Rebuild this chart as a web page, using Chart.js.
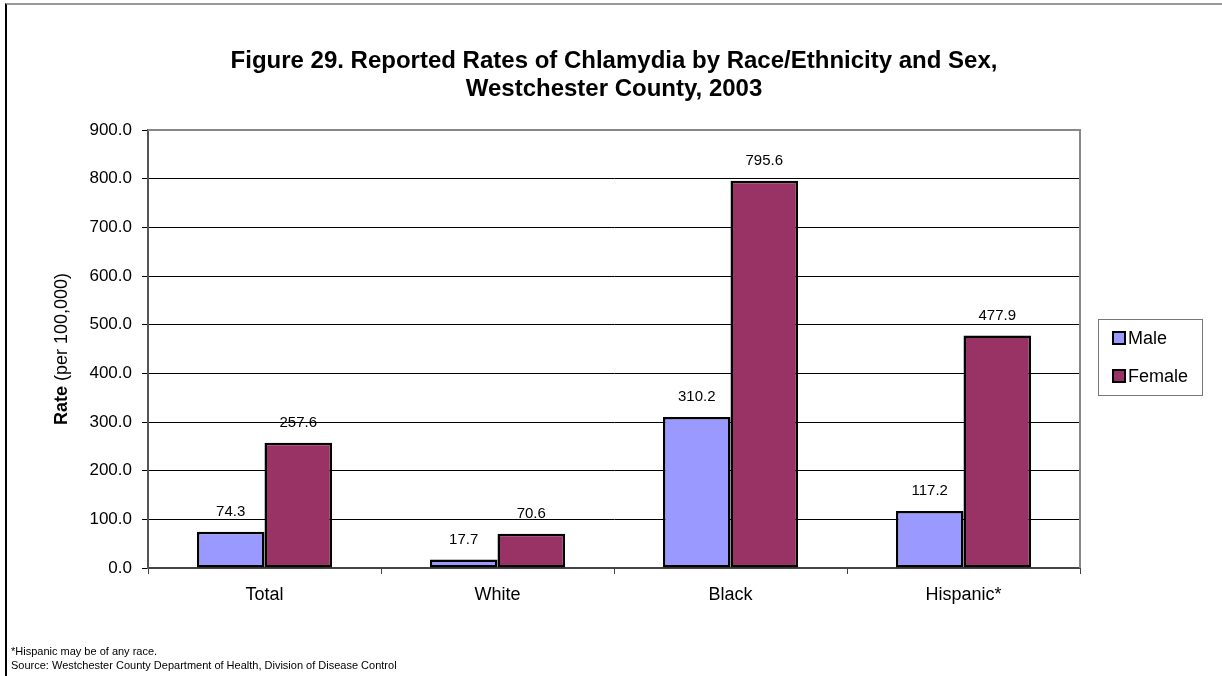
<!DOCTYPE html>
<html>
<head>
<meta charset="utf-8">
<script src="https://cdn.jsdelivr.net/npm/chart.js@4.4.0/dist/chart.umd.min.js"></script>
<style>
  html, body { margin: 0; padding: 0; background: #fff; }
  #wrap { position: relative; width: 1222px; height: 676px; overflow: hidden; }
  #frame { position: absolute; left: 5px; top: 3px; width: 1300px; height: 800px;
           border-left: 2px solid #000; border-top: 2px solid #999; }
  #c { position: absolute; left: 0; top: 0; }
  .note { position: absolute; left: 11px; font: 11px "Liberation Sans", Arial, sans-serif; color: #000; }
</style>
</head>
<body>
<div id="wrap">
  <div id="frame"></div>
  <canvas id="c" width="1222" height="676"></canvas>
  <div class="note" style="top:645px">*Hispanic may be of any race.</div>
  <div class="note" style="top:659px">Source: Westchester County Department of Health, Division of Disease Control</div>
</div>
<script>
const categories = ['Total', 'White', 'Black', 'Hispanic*'];
const maleRates = [74.3, 17.7, 310.2, 117.2];
const femaleRates = [257.6, 70.6, 795.6, 477.9];
const yTicks = [0, 100, 200, 300, 400, 500, 600, 700, 800, 900];
const titleLines = ['Figure 29. Reported Rates of Chlamydia by Race/Ethnicity and Sex,', 'Westchester County, 2003'];

const FONT = '"Liberation Sans", Arial, sans-serif';

const extras = {
  id: 'extras',
  afterDraw(chart) {
    const ctx = chart.ctx;
    const a = chart.chartArea;
    ctx.save();
    // title
    ctx.fillStyle = '#000';
    ctx.font = 'bold 24px ' + FONT;
    ctx.textAlign = 'center';
    ctx.textBaseline = 'middle';
    titleLines.forEach((t, i) => ctx.fillText(t, 614, 61 + i * 28));

    // plot border top and right
    ctx.strokeStyle = '#888';
    ctx.lineWidth = 2;
    ctx.beginPath();
    ctx.moveTo(a.left, a.top);
    ctx.lineTo(a.right, a.top);
    ctx.lineTo(a.right, a.bottom);
    ctx.stroke();

    // value labels
    ctx.fillStyle = '#000';
    ctx.font = '15px ' + FONT;
    ctx.textAlign = 'center';
    ctx.textBaseline = 'middle';
    chart.data.datasets.forEach((ds, i) => {
      chart.getDatasetMeta(i).data.forEach((bar, j) => {
        ctx.fillText(ds.data[j].toFixed(1), bar.x, bar.y - 20);
      });
    });

    // y title
    ctx.save();
    ctx.translate(62, (a.top + a.bottom) / 2);
    ctx.rotate(-Math.PI / 2);
    ctx.textBaseline = 'middle';
    ctx.textAlign = 'left';
    const bold = 'bold 18px ' + FONT, reg = '18px ' + FONT;
    ctx.font = bold; const w1 = ctx.measureText('Rate').width;
    ctx.font = reg; const w2 = ctx.measureText(' (per 100,000)').width;
    const x0 = -(w1 + w2) / 2;
    ctx.font = bold; ctx.fillText('Rate', x0, 0);
    ctx.font = reg; ctx.fillText(' (per 100,000)', x0 + w1, 0);
    ctx.restore();

    // legend
    const lx = 1098, ly = 319, lw = 104, lh = 76;
    ctx.strokeStyle = '#777';
    ctx.lineWidth = 1;
    ctx.strokeRect(lx + 0.5, ly + 0.5, lw, lh);
    ctx.font = '18px ' + FONT;
    ctx.textAlign = 'left';
    ctx.textBaseline = 'middle';
    chart.data.datasets.forEach((ds, i) => {
      const yy = ly + 19 + i * 38;
      ctx.fillStyle = ds.backgroundColor;
      ctx.fillRect(lx + 15, yy - 6, 12, 12);
      ctx.strokeStyle = '#000';
      ctx.lineWidth = 2;
      ctx.strokeRect(lx + 15, yy - 6, 12, 12);
      ctx.fillStyle = '#000';
      ctx.fillText(ds.label, lx + 30, yy + 1);
    });
    ctx.restore();
  }
};

new Chart(document.getElementById('c'), {
  type: 'bar',
  data: {
    labels: categories,
    datasets: [
      {
        label: 'Male',
        data: maleRates,
        backgroundColor: '#9999FF',
        borderColor: '#000',
        borderWidth: 2.5,
        borderSkipped: false
      },
      {
        label: 'Female',
        data: femaleRates,
        backgroundColor: '#993366',
        borderColor: '#000',
        borderWidth: 2.5,
        borderSkipped: false
      }
    ]
  },
  options: {
    responsive: false,
    animation: false,
    events: [],
    layout: { padding: { left: 0, right: 142, top: 130, bottom: 0 } },
    datasets: { bar: { categoryPercentage: 0.58, barPercentage: 1 } },
    plugins: {
      legend: { display: false },
      tooltip: { enabled: false },
      title: { display: false }
    },
    scales: {
      x: {
        grid: { display: true, drawOnChartArea: false, drawTicks: true, tickLength: 6, offset: true, color: '#444' },
        border: { color: '#444', width: 2 },
        ticks: { color: '#000', font: { family: FONT, size: 18 }, padding: 10 },
        afterFit(scale) { scale.height = 108; }
      },
      y: {
        min: 0,
        max: 900,
        afterBuildTicks(scale) { scale.ticks = yTicks.map(v => ({ value: v })); },
        grid: { color: '#000', lineWidth: 1, tickLength: 6, drawTicks: true },
        border: { color: '#555', width: 2 },
        ticks: {
          color: '#000',
          font: { family: FONT, size: 17 },
          padding: 10,
          callback: v => Number(v).toFixed(1)
        },
        afterFit(scale) { scale.width = 148; }
      }
    }
  },
  plugins: [extras]
});
</script>
</body>
</html>
